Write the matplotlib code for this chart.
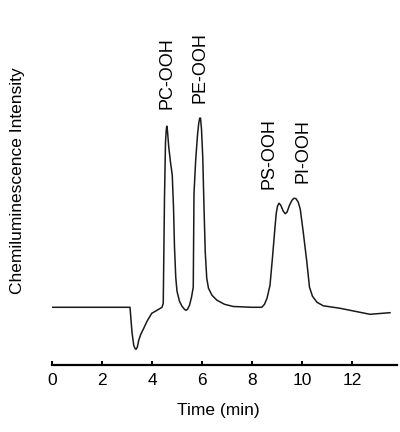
import matplotlib
matplotlib.use('Agg')
import matplotlib.pyplot as plt

plt.rcParams['font.family'] = ['Liberation Sans', 'DejaVu Sans']

# Chromatogram trace (time in min, intensity in arbitrary units, baseline = 0)
time = [0.0, 3.12, 3.2, 3.27, 3.32, 3.36, 3.41, 3.47, 3.55, 3.65, 3.8, 3.99,
        4.2, 4.4, 4.45, 4.5, 4.54, 4.57, 4.59, 4.62, 4.67, 4.74, 4.81, 4.86,
        4.9, 4.95, 5.0, 5.1, 5.2, 5.3, 5.36, 5.42, 5.5, 5.58, 5.65, 5.68,
        5.75, 5.82, 5.87, 5.91, 5.94, 5.98, 6.03, 6.08, 6.13, 6.19, 6.26,
        6.4, 6.6, 6.9, 7.25, 8.0, 8.39, 8.5, 8.6, 8.72, 8.82, 8.92, 8.97,
        9.02, 9.08, 9.15, 9.25, 9.33, 9.4, 9.5, 9.6, 9.68, 9.76, 9.85,
        9.93, 10.05, 10.19, 10.3, 10.42, 10.6, 10.85, 11.52, 12.72, 13.52]
intensity = [0, 0, -25, -38, -41, -42, -40, -33, -27, -22, -14, -6,
             -3, 0, 4, 110, 165, 177, 181, 176, 160, 145, 132, 100,
             60, 30, 16, 6, 1, -2, -3, -2, 2, 10, 20, 114,
             148, 172, 184, 189, 189, 178, 150, 100, 55, 29, 19,
             12, 7, 3, 0.8, 0, 0, 3, 9, 22, 50, 80, 94,
             101, 104, 102, 96, 93.5, 95, 102, 107, 109, 108.5, 105,
             98, 75, 46, 20, 11, 5, 1.5, -1, -7, -5.4]

# Peak labels
peak_names = ['PC-OOH', 'PE-OOH', 'PS-OOH', 'PI-OOH']
peak_time = [4.59, 5.90, 8.69, 10.04]
peak_label_y = [198, 204, 118, 124]

xticks = [0, 2, 4, 6, 8, 10, 12]

fig = plt.figure(figsize=(4.0, 4.32), dpi=100)
ax = fig.add_axes([0.13, 0.155, 0.8625, 0.614])

ax.plot(time, intensity, color='#1a1a1a', linewidth=1.1)

for name, t, y in zip(peak_names, peak_time, peak_label_y):
    ax.text(t, y, name, rotation=90, ha='center', va='bottom',
            fontsize=13, clip_on=False)

ax.set_xlim(0, 13.8)
ax.set_ylim(-57.7, 207.3)
ax.set_xticks(xticks)
ax.set_yticks([])

# Only the bottom axis line is drawn
for side in ['left', 'right', 'top']:
    ax.spines[side].set_visible(False)
ax.spines['bottom'].set_linewidth(1.6)
ax.tick_params(axis='x', direction='in', length=3, width=1.4, pad=6,
               labelsize=12.5)

fig.text(18 / 400, 1 - 181 / 432, 'Chemiluminescence Intensity',
         rotation=90, ha='center', va='center', fontsize=12.5)
fig.text(218 / 400, 1 - 411 / 432, 'Time (min)', ha='center', va='center',
         fontsize=12.5)

fig.savefig('out.png', dpi=100)
